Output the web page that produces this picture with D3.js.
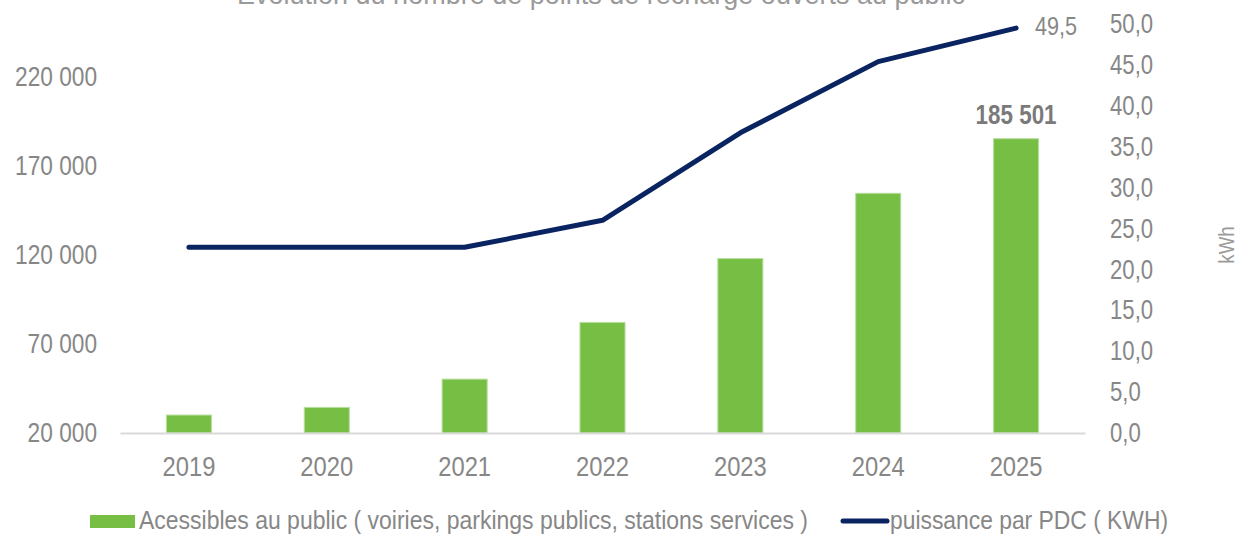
<!DOCTYPE html>
<html>
<head>
<meta charset="utf-8">
<script src="https://cdn.jsdelivr.net/npm/d3@7"></script>
<style>
  html, body { margin: 0; padding: 0; background: #fff; }
  svg text { font-family: "Liberation Sans Narrow", "Arial Narrow", "Liberation Sans", Arial, sans-serif; }
</style>
</head>
<body>
<svg id="chart" width="1238" height="535"></svg>
<script>
// Points de recharge ouverts au public, par année
const years = ["2019", "2020", "2021", "2022", "2023", "2024", "2025"];
const pointsPublics = [30100, 34400, 50300, 82200, 118100, 154800, 185501];
const puissanceKwh = [22.7, 22.7, 22.7, 26.0, 36.7, 45.4, 49.5];
const leftTicks = [20000, 70000, 120000, 170000, 220000];
const rightTicks = [0, 5, 10, 15, 20, 25, 30, 35, 40, 45, 50];
const titleText = "Évolution du nombre de points de recharge ouverts au public";
const barLegend = "Acessibles au public ( voiries, parkings publics, stations services )";
const lineLegend = "puissance par PDC ( KWH)";
const rightAxisTitle = "kWh";

const fr = d3.formatLocale({ decimal: ",", thousands: " ", grouping: [3], currency: ["", " €"] });
const fmtInt = fr.format(",d");
const fmtDec = fr.format(".1f");

const svg = d3.select("#chart");
const plot = { left: 120, right: 1085, top: 24, bottom: 433 };

const x = d3.scaleBand().domain(years).range([plot.left, plot.right]).padding(0);
const yLeft = d3.scaleLinear().domain([20000, 250000]).range([plot.bottom, plot.top]);
const yRight = d3.scaleLinear().domain([0, 50]).range([plot.bottom, plot.top]);

const barW = x.bandwidth() * 0.327;
const grey = "#878787";
const green = "#76bf44";
const navy = "#0a2461";

// Narrow the glyphs of a text selection (condensed face look)
function condense(sel, factor) {
  sel.each(function () {
    const w = this.getComputedTextLength();
    d3.select(this).attr("textLength", w * factor).attr("lengthAdjust", "spacingAndGlyphs");
  });
}
function fitWidth(sel, width) {
  sel.attr("textLength", width).attr("lengthAdjust", "spacingAndGlyphs");
}

// Title (partly above the top edge)
svg.append("text")
  .attr("x", 601).attr("y", 4)
  .attr("text-anchor", "middle")
  .attr("font-size", 28)
  .attr("fill", "#9a9a9a")
  .text(titleText)
  .call(fitWidth, 728);

// Left axis
const gl = svg.append("g")
  .attr("transform", `translate(${plot.left - 23},0)`)
  .call(d3.axisLeft(yLeft).tickValues(leftTicks).tickSize(0).tickPadding(0).tickFormat(fmtInt));
gl.select(".domain").remove();
gl.selectAll("text").attr("font-size", 27).attr("fill", grey).attr("font-family", null).call(condense, 0.84);

// Right axis
const gr = svg.append("g")
  .attr("transform", `translate(${plot.right + 25},0)`)
  .call(d3.axisRight(yRight).tickValues(rightTicks).tickSize(0).tickPadding(0).tickFormat(fmtDec));
gr.select(".domain").remove();
gr.selectAll("text").attr("font-size", 27).attr("fill", grey).attr("font-family", null).call(condense, 0.82);

svg.append("text")
  .attr("transform", `translate(1228,245) rotate(-90)`)
  .attr("text-anchor", "middle")
  .attr("dominant-baseline", "middle")
  .attr("font-size", 22)
  .attr("fill", "#9a9a9a")
  .text(rightAxisTitle)
  .call(condense, 0.85);

// Bars
svg.append("g").selectAll("rect")
  .data(years.map((y, i) => ({ year: y, v: pointsPublics[i] })))
  .join("rect")
  .attr("x", d => x(d.year) + x.bandwidth() / 2 - barW / 2)
  .attr("y", d => yLeft(d.v))
  .attr("width", barW)
  .attr("height", d => yLeft(20000) - yLeft(d.v))
  .attr("fill", green)
  .attr("stroke", "#b9dfa0")
  .attr("stroke-width", 1);

// Category axis
const gx = svg.append("g")
  .attr("transform", `translate(0,${plot.bottom})`)
  .call(d3.axisBottom(x).tickSize(0).tickPadding(0));
gx.select(".domain").attr("stroke", "#d9d9d9").attr("stroke-width", 2);
gx.selectAll("text").attr("font-size", 27).attr("fill", grey).attr("font-family", null)
  .attr("dy", null).attr("y", 43).call(condense, 0.88);

// Last bar value label
const lastI = years.length - 1;
svg.append("text")
  .attr("x", x(years[lastI]) + x.bandwidth() / 2)
  .attr("y", yLeft(pointsPublics[lastI]) - 15)
  .attr("text-anchor", "middle")
  .attr("font-size", 27)
  .attr("font-weight", "bold")
  .attr("fill", "#7a7a7a")
  .text(fmtInt(pointsPublics[lastI]))
  .call(condense, 0.83);

// Power line
const line = d3.line()
  .x((d, i) => x(years[i]) + x.bandwidth() / 2)
  .y(d => yRight(d));
svg.append("path")
  .datum(puissanceKwh)
  .attr("d", line)
  .attr("fill", "none")
  .attr("stroke", navy)
  .attr("stroke-width", 5)
  .attr("stroke-linecap", "round")
  .attr("stroke-linejoin", "round");

svg.append("text")
  .attr("x", x(years[lastI]) + x.bandwidth() / 2 + 19)
  .attr("y", yRight(puissanceKwh[lastI]))
  .attr("dominant-baseline", "middle")
  .attr("font-size", 25)
  .attr("fill", grey)
  .text(fmtDec(puissanceKwh[lastI]))
  .call(fitWidth, 42);

// Legend
const lg = svg.append("g");
lg.append("rect").attr("x", 90).attr("y", 515).attr("width", 45).attr("height", 13).attr("fill", green);
lg.append("text").attr("x", 139).attr("y", 522).attr("dominant-baseline", "middle")
  .attr("font-size", 26).attr("fill", grey).text(barLegend).call(fitWidth, 669);
lg.append("line").attr("x1", 843).attr("x2", 887).attr("y1", 521).attr("y2", 521)
  .attr("stroke", navy).attr("stroke-width", 5).attr("stroke-linecap", "round");
lg.append("text").attr("x", 890).attr("y", 522).attr("dominant-baseline", "middle")
  .attr("font-size", 26).attr("fill", grey).text(lineLegend).call(fitWidth, 278);
</script>
</body>
</html>
